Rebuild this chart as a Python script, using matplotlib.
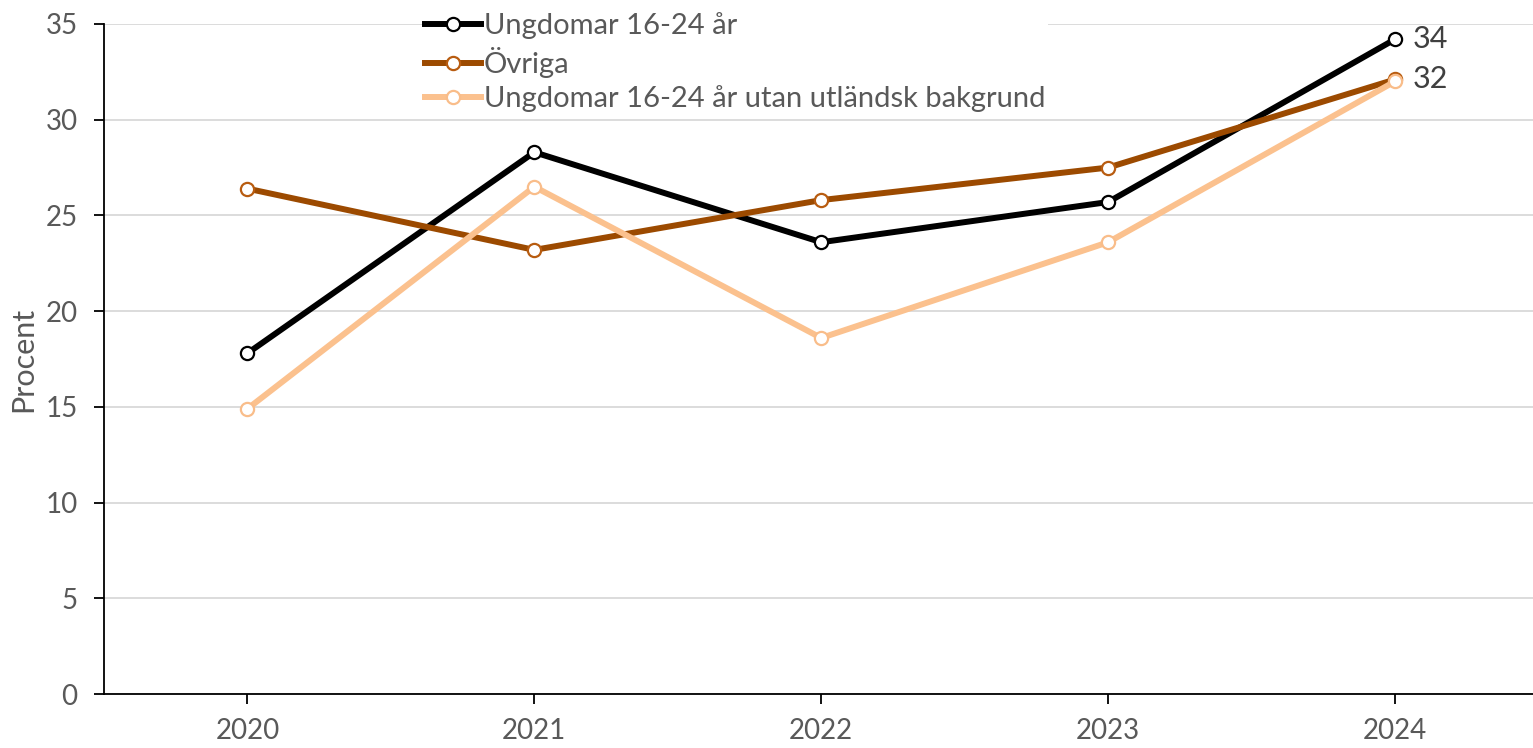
import matplotlib
matplotlib.use("Agg")
import matplotlib.pyplot as plt

plt.rcParams['font.family'] = ['Lato', 'DejaVu Sans']

# data
years = ['2020', '2021', '2022', '2023', '2024']
ungdomar = [17.8, 28.3, 23.6, 25.7, 34.2]
ovriga = [26.4, 23.2, 25.8, 27.5, 32.1]
utan_utl = [14.9, 26.5, 18.6, 23.6, 32.0]
end_labels = ['34', '32']
names = ['Ungdomar 16-24 år', 'Övriga', 'Ungdomar 16-24 år utan utländsk bakgrund']

txt = '#595959'
fig = plt.figure(figsize=(15.33, 7.48), dpi=100)
ax = fig.add_axes([0.0678, 0.072, 0.9358, 0.896])

x = range(len(years))
series = [
    (ungdomar, '#000000', '#000000'),
    (ovriga, '#9C4A00', '#B85C10'),
    (utan_utl, '#FBC18E', '#F9BD8A'),
]
handles = []
for (vals, col, mec), name in zip(series, names):
    h, = ax.plot(x, vals, color=col, lw=4.3, marker='o', ms=9.5,
                 mfc='white', mec=mec, mew=1.6, label=name, zorder=3)
    handles.append(h)

ax.text(4 + 0.06, ungdomar[-1], end_labels[0], fontsize=22, color='#404040', va='center', ha='left')
ax.text(4 + 0.06, ovriga[-1], end_labels[1], fontsize=22, color='#404040', va='center', ha='left')

ax.set_xlim(-0.5, 4.5)
ax.set_ylim(0, 35)
ax.set_yticks(range(0, 36, 5))
ax.set_xticks(list(x))
ax.set_xticklabels(years)
ax.yaxis.grid(True, color='#d9d9d9', lw=1.3)
ax.set_axisbelow(True)
for s in ['top', 'right']:
    ax.spines[s].set_visible(False)
ax.spines['left'].set_linewidth(1.3)
ax.spines['bottom'].set_linewidth(1.3)
ax.tick_params(axis='both', labelsize=20, labelcolor=txt, length=7, width=1.3)
ax.tick_params(axis='x', pad=10)
ax.tick_params(axis='y', pad=12)
ax.set_ylabel('Procent', fontsize=22, color=txt, labelpad=6)

leg = fig.legend(handles=handles, loc='upper left', bbox_to_anchor=(0.266, 1.007),
                 fontsize=21, frameon=True, facecolor='white', edgecolor='none',
                 fancybox=False, framealpha=1, handlelength=1.9, handletextpad=0.1,
                 labelspacing=0.26, borderpad=0.1)
for t in leg.get_texts():
    t.set_color(txt)

fig.savefig('out.png', dpi=100)
